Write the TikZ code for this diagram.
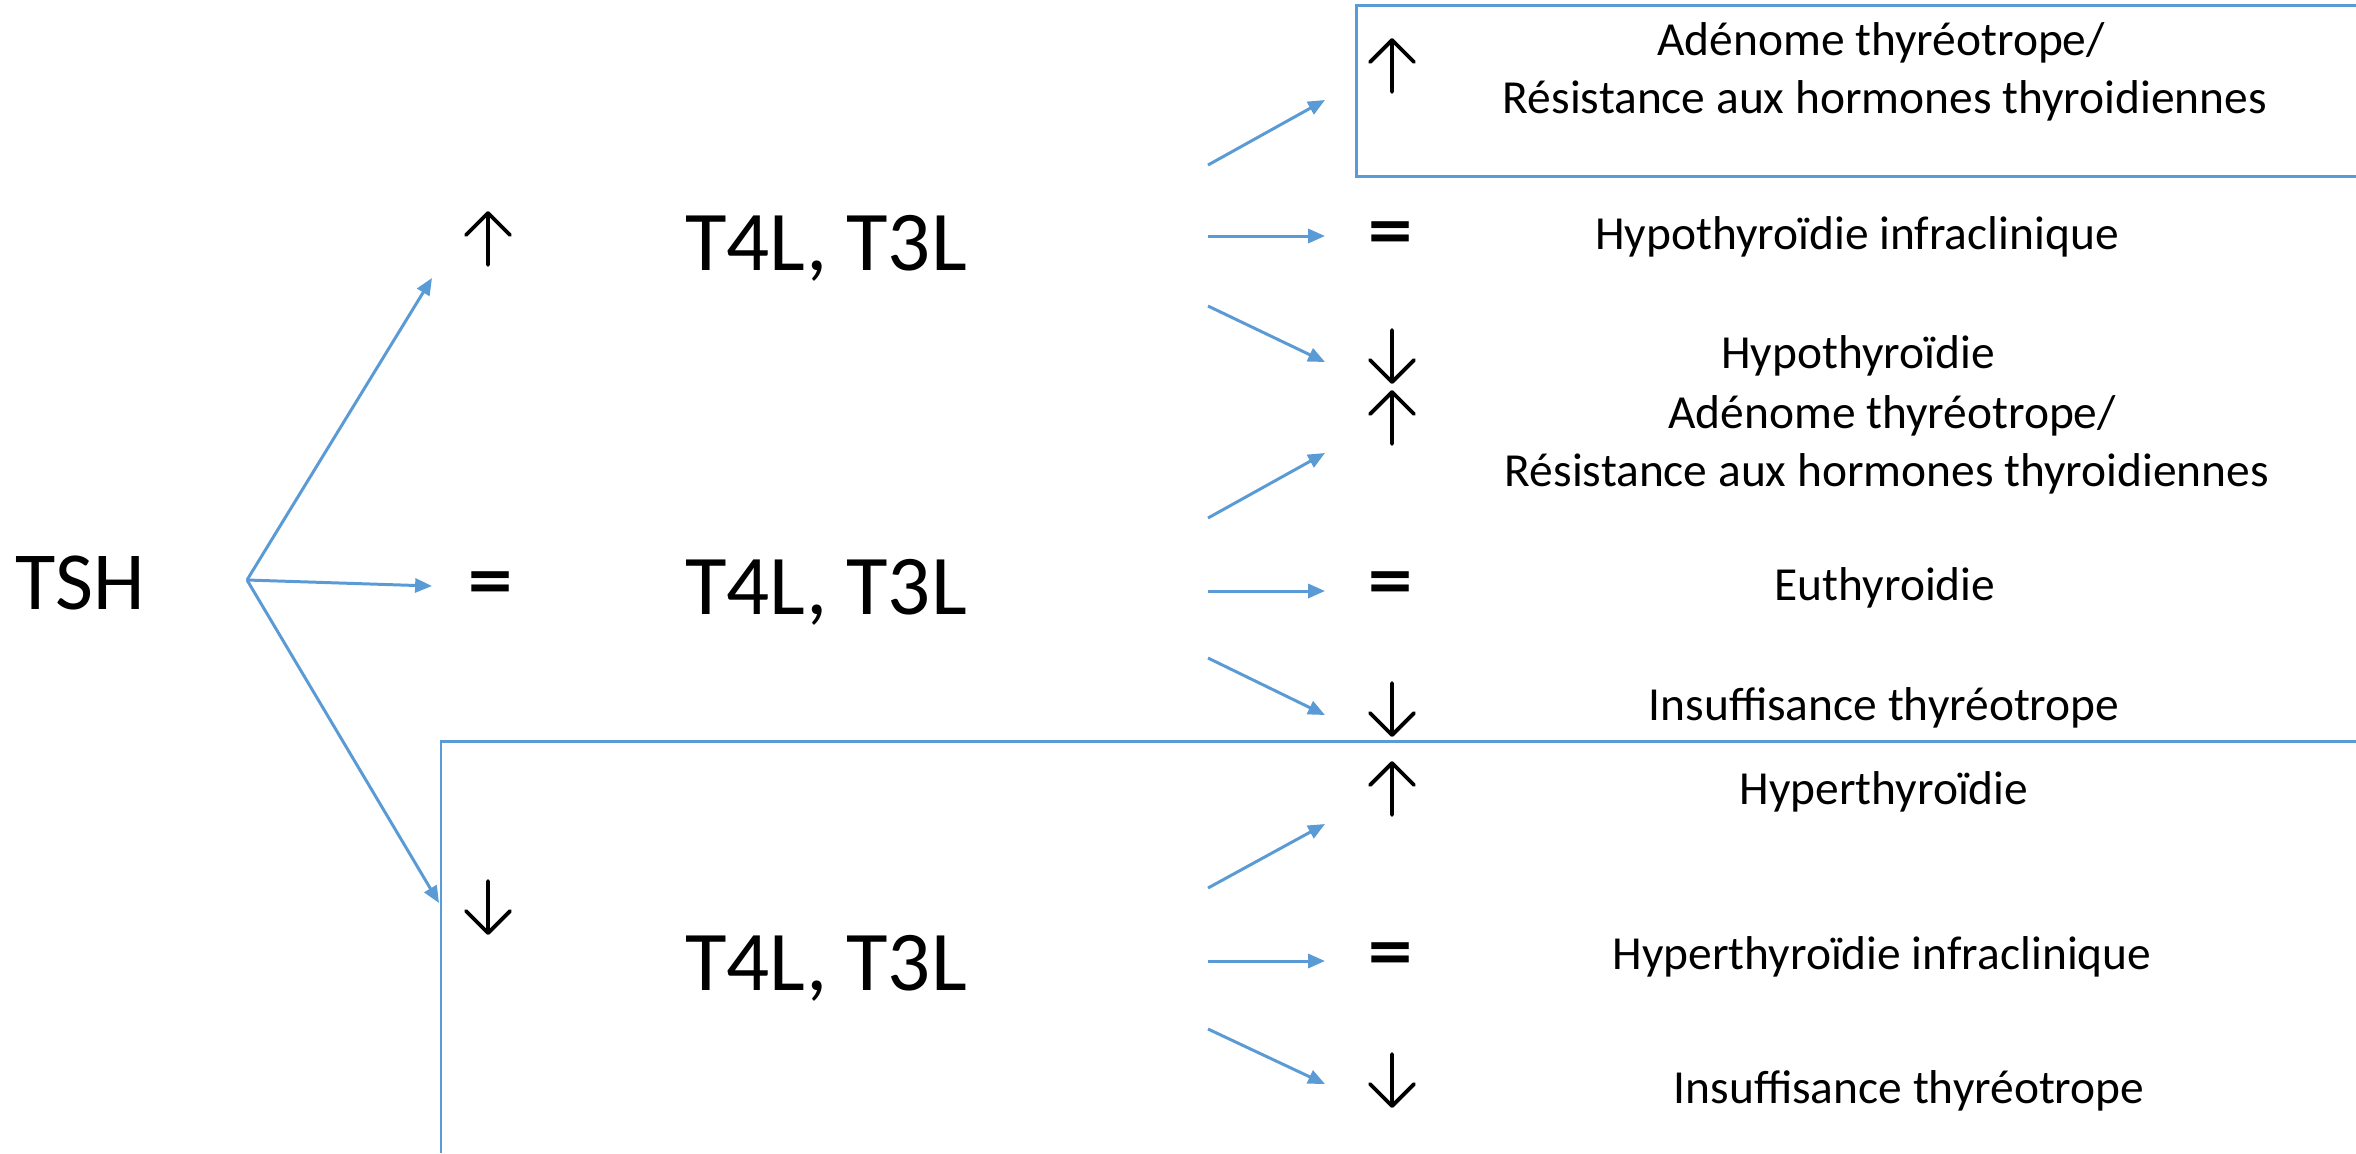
\documentclass[tikz,border=0pt]{standalone}
\usepackage{fontspec}
\setmainfont{Carlito}
\newfontfamily\symfont{DejaVu Sans}
\usetikzlibrary{arrows.meta}
\definecolor{linkblue}{HTML}{5B9BD5}
\begin{document}
\begin{tikzpicture}[x=0.1mm,y=-0.1mm,
  big/.style={font=\fontsize{24.2}{29}\selectfont, inner sep=0, anchor=base},
  tsh/.style={font=\fontsize{23.5}{28}\selectfont, inner sep=0, anchor=base},
  small/.style={font=\fontsize{13.5}{16.5}\selectfont, inner sep=0, anchor=base},
  eq/.style={font=\symfont\bfseries\fontsize{17}{20}\selectfont, inner sep=0},
  symline/.style={line width=1.1pt, line cap=round, line join=round},
  uparr/.pic={\draw[symline] (0,26) -- (0,-26) (-22,-4) -- (0,-26) -- (22,-4);},
  downarr/.pic={\draw[symline] (0,-26) -- (0,26) (-22,4) -- (0,26) -- (22,4);},
  conn/.style={draw=linkblue, line width=0.85pt, -{Triangle[length=4.8pt,width=4pt]}},
  frame/.style={draw=linkblue, line width=0.85pt}]
\useasboundingbox (0,0) rectangle (2356,1153);

% frames
\draw[frame] (2356,5) -- (1356,5) -- (1356,176) -- (2356,176);
\draw[frame] (2356,741) -- (441,741) -- (441,1153);

% left part
\node[tsh] (tsh) at (80,609) {TSH};
\pic (lup) at (488,239) {uparr};
\node[eq] (leq) at (491,586) {=};
\pic (ldown) at (488,907) {downarr};
\node[big] (t1) at (826,270) {T4L, T3L};
\node[big] (t2) at (826,614) {T4L, T3L};
\node[big] (t3) at (826,990) {T4L, T3L};

\coordinate (fan) at (247,580);
\coordinate (fup) at (432,278);
\coordinate (feq) at (432,586);
\coordinate (fdown) at (439,903);
\draw[conn] (fan) -- (fup);
\draw[conn] (fan) -- (feq);
\draw[conn] (fan) -- (fdown);

% right arrows: group 1
\coordinate (a1s) at (1208,165); \coordinate (a1e) at (1325,100);
\coordinate (b1s) at (1208,236); \coordinate (b1e) at (1325,236);
\coordinate (c1s) at (1208,306); \coordinate (c1e) at (1325,362);
% group 2
\coordinate (a2s) at (1208,518); \coordinate (a2e) at (1325,453);
\coordinate (b2s) at (1208,591); \coordinate (b2e) at (1325,591);
\coordinate (c2s) at (1208,658); \coordinate (c2e) at (1325,715);
% group 3
\coordinate (a3s) at (1208,888); \coordinate (a3e) at (1325,824);
\coordinate (b3s) at (1208,961); \coordinate (b3e) at (1325,961);
\coordinate (c3s) at (1208,1029); \coordinate (c3e) at (1325,1084);
\foreach \g in {1,2,3}{
  \draw[conn] (a\g s) -- (a\g e);
  \draw[conn] (b\g s) -- (b\g e);
  \draw[conn] (c\g s) -- (c\g e);
}

% right symbols
\pic (s1u) at (1392,66) {uparr};
\node[eq]  (s1e) at (1391,236) {=};
\pic (s1d) at (1392,356) {downarr};
\pic (s2u) at (1392,418) {uparr};
\node[eq]  (s2e) at (1391,586) {=};
\pic (s2d) at (1392,709) {downarr};
\pic (s3u) at (1392,789) {uparr};
\node[eq]  (s3e) at (1391,957) {=};
\pic (s3d) at (1392,1080) {downarr};

% right texts
\node[small] (r1a) at (1881,55) {Adénome thyréotrope/};
\node[small] (r1b) at (1885,113) {Résistance aux hormones thyroidiennes};
\node[small] (r2) at (1857,249) {Hypothyroïdie infraclinique};
\node[small] (r3) at (1858,368) {Hypothyroïdie};
\node[small] (r4a) at (1892,428) {Adénome thyréotrope/};
\node[small] (r4b) at (1887,486) {Résistance aux hormones thyroidiennes};
\node[small] (r5) at (1885,600) {Euthyroidie};
\node[small] (r6) at (1884,720) {Insuffisance thyréotrope};
\node[small] (r7) at (1884,804) {Hyperthyroïdie};
\node[small] (r8) at (1882,969) {Hyperthyroïdie infraclinique};
\node[small] (r9) at (1909,1103) {Insuffisance thyréotrope};
\end{tikzpicture}
\end{document}
